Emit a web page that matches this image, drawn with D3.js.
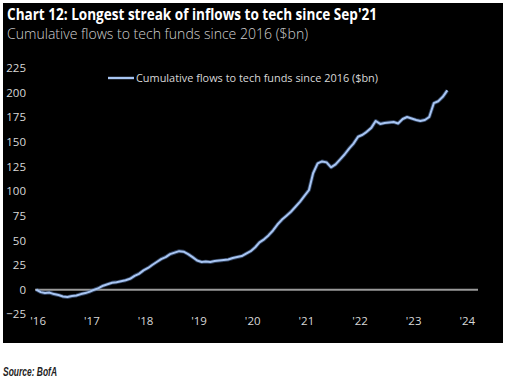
<!DOCTYPE html>
<html>
<head>
<meta charset="utf-8">
<script src="https://cdn.jsdelivr.net/npm/d3@7"></script>
<style>
  html, body { margin: 0; padding: 0; background: #fff; }
  svg { display: block; }
</style>
</head>
<body>
<svg id="chart" width="507" height="380"></svg>
<script>
// ---------- data ----------
const months = [
  "2016-01","2016-02","2016-03","2016-04","2016-05","2016-06","2016-07","2016-08","2016-09","2016-10","2016-11","2016-12",
  "2017-01","2017-02","2017-03","2017-04","2017-05","2017-06","2017-07","2017-08","2017-09","2017-10","2017-11","2017-12",
  "2018-01","2018-02","2018-03","2018-04","2018-05","2018-06","2018-07","2018-08","2018-09","2018-10","2018-11","2018-12",
  "2019-01","2019-02","2019-03","2019-04","2019-05","2019-06","2019-07","2019-08","2019-09","2019-10","2019-11","2019-12",
  "2020-01","2020-02","2020-03","2020-04","2020-05","2020-06","2020-07","2020-08","2020-09","2020-10","2020-11","2020-12",
  "2021-01","2021-02","2021-03","2021-04","2021-05","2021-06","2021-07","2021-08","2021-09","2021-10","2021-11","2021-12",
  "2022-01","2022-02","2022-03","2022-04","2022-05","2022-06","2022-07","2022-08","2022-09","2022-10","2022-11","2022-12",
  "2023-01","2023-02","2023-03","2023-04","2023-05","2023-06","2023-07","2023-08","2023-09"
];
const flows = [
  0, -2.5, -3.5, -3, -4.5, -5.5, -7, -7.5, -6.5, -6, -4.5, -3.5,
  -2, 0, 1.5, 4, 5.5, 7, 7.5, 8.5, 9.5, 11, 14, 16,
  19.5, 22, 25, 28, 31, 33, 36, 37.5, 39, 38.5, 36, 33,
  29.5, 28, 28.5, 28, 29, 29.5, 30, 30.5, 32, 33, 34, 36.5,
  39, 43, 48, 51, 55, 60, 66, 71, 75, 79, 84, 89,
  95, 101, 118, 128, 130, 129, 124, 127, 132, 137, 143, 148,
  155, 157, 160, 164, 171, 168, 169, 169.5, 170, 168.5, 173, 175,
  173.5, 172, 171, 172, 175, 189, 191, 195.5, 202
];
const yTicks = [-25, 0, 25, 50, 75, 100, 125, 150, 175, 200, 225];
const xTickYears = ["2016","2017","2018","2019","2020","2021","2022","2023","2024"];
const xTickLabels = ["'16","'17","'18","'19","'20","'21","'22","'23","'24"];
const xDomain = ["2015-12-24", "2024-03-28"];
const yDomain = [-25, 225];

const title = "Chart 12: Longest streak of inflows to tech since Sep'21";
const subtitle = "Cumulative flows to tech funds since 2016 ($bn)";
const seriesName = "Cumulative flows to tech funds since 2016 ($bn)";
const source = "Source: BofA";

// ---------- drawing ----------
const svg = d3.select("#chart");
const parseM = d3.timeParse("%Y-%m");
const parseD = d3.timeParse("%Y-%m-%d");
const parseY = d3.timeParse("%Y");
const data = months.map((m, i) => ({ date: parseM(m), value: flows[i] }));

const x = d3.scaleTime().domain(xDomain.map(parseD)).range([35, 478]);
const y = d3.scaleLinear().domain(yDomain).range([314.3, 67.7]);

const font = "'Open Sans', 'Noto Sans', sans-serif";

svg.append("rect").attr("x", 3).attr("y", 3).attr("width", 500).attr("height", 340).attr("fill", "#000");

function fitText(sel, w) { sel.attr("textLength", w).attr("lengthAdjust", "spacingAndGlyphs"); return sel; }

fitText(svg.append("text").attr("x", 7).attr("y", 20)
  .attr("font-family", font).attr("font-weight", 700).attr("font-size", 15.5)
  .attr("fill", "#fff").text(title), 370);

fitText(svg.append("text").attr("x", 7).attr("y", 39)
  .attr("font-family", font).attr("font-weight", 300).attr("font-size", 14.5)
  .attr("fill", "#d0d0d0").text(subtitle), 301);

// y axis labels
const yAxis = d3.axisLeft(y).tickValues(yTicks).tickSize(0).tickPadding(0);
const gy = svg.append("g").attr("transform", "translate(26,0)").call(yAxis);
gy.select(".domain").remove();
gy.selectAll("text").attr("font-family", font).attr("font-size", 11.5).attr("fill", "#d8d8d8");

// x axis labels
const xAxis = d3.axisBottom(x).tickValues(xTickYears.map(parseY)).tickSize(0).tickPadding(0)
  .tickFormat((d, i) => xTickLabels[i]);
const gx = svg.append("g").attr("transform", "translate(1.5,317)").call(xAxis);
gx.select(".domain").remove();
gx.selectAll("text").attr("font-family", font).attr("font-size", 11.5).attr("fill", "#d8d8d8");

// zero line
svg.append("line").attr("x1", x.range()[0]).attr("x2", x.range()[1])
  .attr("y1", y(0)).attr("y2", y(0)).attr("stroke", "#9a9a9a").attr("stroke-width", 2);

// series
const line = d3.line().x(d => x(d.date)).y(d => y(d.value));
svg.append("path").datum(data).attr("d", line).attr("fill", "none")
  .attr("stroke", "#5d7fb8").attr("stroke-width", 3.8).attr("stroke-opacity", 0.5).attr("stroke-linejoin", "round");
svg.append("path").datum(data).attr("d", line).attr("fill", "none")
  .attr("stroke", "#a8c5f2").attr("stroke-width", 2).attr("stroke-linejoin", "round");

// legend
svg.append("line").attr("x1", 108).attr("x2", 134).attr("y1", 78).attr("y2", 78)
  .attr("stroke", "#a8c5f2").attr("stroke-width", 2.4);
fitText(svg.append("text").attr("x", 136).attr("y", 82)
  .attr("font-family", font).attr("font-size", 11).attr("fill", "#d8d8d8").text(seriesName), 242);

// source
fitText(svg.append("text").attr("x", 3).attr("y", 376)
  .attr("font-family", "'Liberation Sans Narrow', 'Liberation Sans', Arial, sans-serif")
  .attr("font-weight", 700).attr("font-style", "italic").attr("font-size", 12)
  .attr("fill", "#222").text(source), 54);
</script>
</body>
</html>
